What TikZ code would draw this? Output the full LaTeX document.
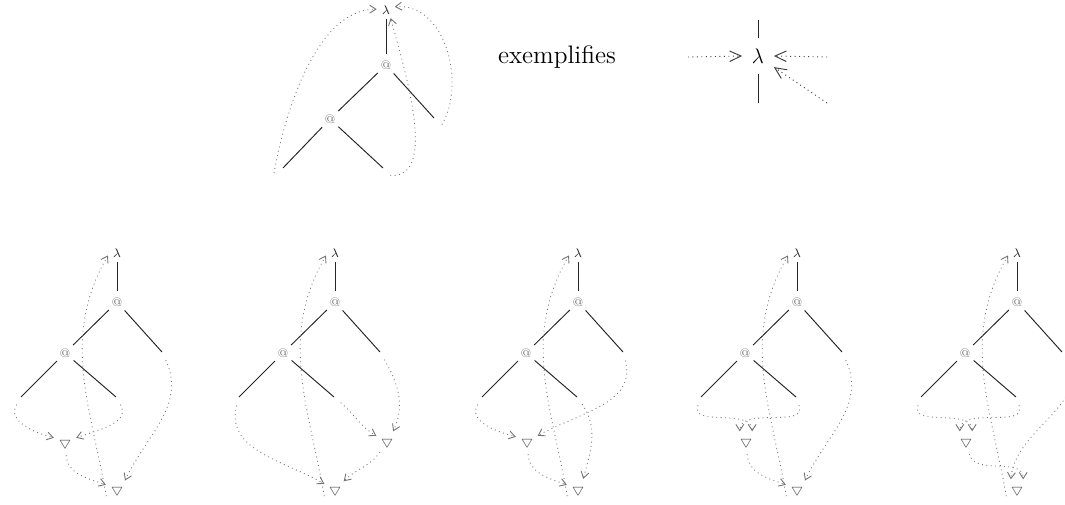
\documentclass[tikz,border=0pt]{standalone}
\usepackage{amssymb}
\usetikzlibrary{arrows.meta}
\newcommand\btree[2]{%
 \node[lamn] (#1lam) at (#2,-253) {$\lambda$};
 \node[appn] (#1a1) at (#2,-302) {@};
 \node[appn] (#1a2) at ({#2-52},-353) {@};
 \node[leafn] (#1r) at ({#2+45},-352) {};
 \node[leafn] (#1ll) at ({#2-96},-397) {};
 \node[leafn] (#1lr) at ({#2-1},-397) {};
 \draw[edge] (#1lam) -- (#1a1);
 \draw[edge] (#1a1) -- (#1a2);
 \draw[edge] (#1a1) -- (#1r.center);
 \draw[edge] (#1a2) -- (#1ll.center);
 \draw[edge] (#1a2) -- (#1lr.center);
}
\begin{document}
\begin{tikzpicture}[x=0.02cm,y=0.02cm,
 edge/.style={line width=0.55pt, black!85},
 dots/.style={dotted, line width=0.5pt, black!55},
 arr/.style={dots, -{Straight Barb[length=3.5pt,width=4.5pt]}},
 bigarr/.style={dotted, line width=0.55pt, black!75, -{Straight Barb[length=6.5pt,width=6pt]}},
 lamn/.style={circle, inner sep=0pt, minimum size=0.36cm, font=\scriptsize, text=black!85},
 appn/.style={circle, inner sep=0pt, minimum size=0.44cm, font=\scriptsize, text=black!55},
 leafn/.style={circle, inner sep=0pt, minimum size=0.34cm},
 nabn/.style={circle, inner sep=0pt, minimum size=0.48cm, font=\scriptsize, text=black!70},
]
\useasboundingbox (0,0) rectangle (1065,-504);
\clip (0,0) rectangle (1065,-504);

% top tree
\node[lamn] (Tlam) at (386,-10) {$\lambda$};
\node[appn] (Ta1) at (386,-65) {@};
\node[appn] (Ta2) at (330,-119) {@};
\node[leafn, minimum size=0.4cm] (Tr) at (434,-118) {};
\node[leafn, minimum size=0.4cm] (Tll) at (283,-168) {};
\node[leafn, minimum size=0.4cm] (Tlr) at (383,-168) {};
\draw[edge] (Tlam) -- (Ta1);
\draw[edge] (Ta1) -- (Ta2);
\draw[edge] (Ta1) -- (Tr.center);
\draw[edge] (Ta2) -- (Tll.center);
\draw[edge] (Ta2) -- (Tlr.center);
\draw[arr] (Tll.-150) to[out=80,in=180,looseness=0.8] (Tlam.175);
\draw[arr] (Tlr.-45) to[out=-5,in=-75,looseness=0.8] (Tlam.-60);
\draw[arr] (Tr.-40) to[out=60,in=5] (Tlam.20);

% exemplifies
\node[font=\Large] (ex) at (557,-57) {exemplifies};
\node[font=\large, minimum width=0.62cm, minimum height=0.7cm, inner sep=0pt] (bl) at (758,-56) {$\lambda$};
\coordinate (bt) at (758,-20);
\coordinate (bb) at (758,-103);
\draw[edge] (bt) -- (bl.north);
\draw[edge] (bl.south) -- (bb);
\coordinate (sl) at (688,-57);
\coordinate (sr) at (827,-57);
\coordinate (sd) at (827,-103);
\draw[bigarr] (sl) -- (bl.west);
\draw[bigarr] (sr) -- (bl.east);
\draw[bigarr] (sd) -- (bl.-35);

% tree 1
\btree{A}{117}
\node[nabn] (At1) at (65,-443) {$\bigtriangledown$};
\node[nabn] (At2) at (117,-490) {$\bigtriangledown$};
\draw[arr] (All) to[out=-120,in=165] (At1.155);
\draw[arr] (Alr) to[out=-60,in=20] (At1.25);
\draw[arr] (At1) to[out=-85,in=160] (At2.155);
\draw[arr] (Ar) to[out=-65,in=65] (At2.50);
\draw[arr] (At2.210) to[out=100,in=-120] (Alam.195);

% tree 2
\btree{B}{335}
\node[nabn] (Bt1) at (387,-442) {$\bigtriangledown$};
\node[nabn] (Bt2) at (335,-490) {$\bigtriangledown$};
\draw[arr] (Blr) to[out=-40,in=150] (Bt1.150);
\draw[arr] (Br) to[out=-60,in=65] (Bt1.60);
\draw[arr] (Bt1) to[out=-125,in=45] (Bt2.45);
\draw[arr] (Bll) to[out=-105,in=150] (Bt2.150);
\draw[arr] (Bt2.210) to[out=100,in=-120] (Blam.195);

% tree 3
\btree{C}{578}
\node[nabn] (Ct1) at (527,-442) {$\bigtriangledown$};
\node[nabn] (Ct2) at (578,-490) {$\bigtriangledown$};
\draw[arr] (Cll) to[out=-120,in=165] (Ct1.155);
\draw[arr] (Cr) to[out=-75,in=30] (Ct1.30);
\draw[arr] (Clr) to[out=-55,in=75] (Ct2.65);
\draw[arr] (Ct1) to[out=-85,in=160] (Ct2.155);
\draw[arr] (Ct2.210) to[out=100,in=-120] (Clam.195);

% tree 4
\btree{D}{797}
\node[nabn] (Dt1) at (746,-442) {$\bigtriangledown$};
\node[nabn] (Dt2) at (797,-490) {$\bigtriangledown$};
\draw[arr] (Dll) to[out=-110,in=90] (Dt1.60);
\draw[arr] (Dlr) to[out=-70,in=90] (Dt1.120);
\draw[arr] (Dt1) to[out=-85,in=160] (Dt2.155);
\draw[arr] (Dr) to[out=-65,in=65] (Dt2.50);
\draw[arr] (Dt2.210) to[out=100,in=-120] (Dlam.195);

% tree 5
\btree{E}{1017}
\node[nabn] (Et1) at (966,-442) {$\bigtriangledown$};
\node[nabn] (Et2) at (1017,-490) {$\bigtriangledown$};
\draw[arr] (Ell) to[out=-110,in=90] (Et1.60);
\draw[arr] (Elr) to[out=-70,in=90] (Et1.120);
\draw[arr] (Et1) to[out=-75,in=90] (Et2.60);
\draw[arr] (Er) to[out=-60,in=85] (Et2.120);
\draw[arr] (Et2.210) to[out=100,in=-120] (Elam.195);
\end{tikzpicture}
\end{document}
